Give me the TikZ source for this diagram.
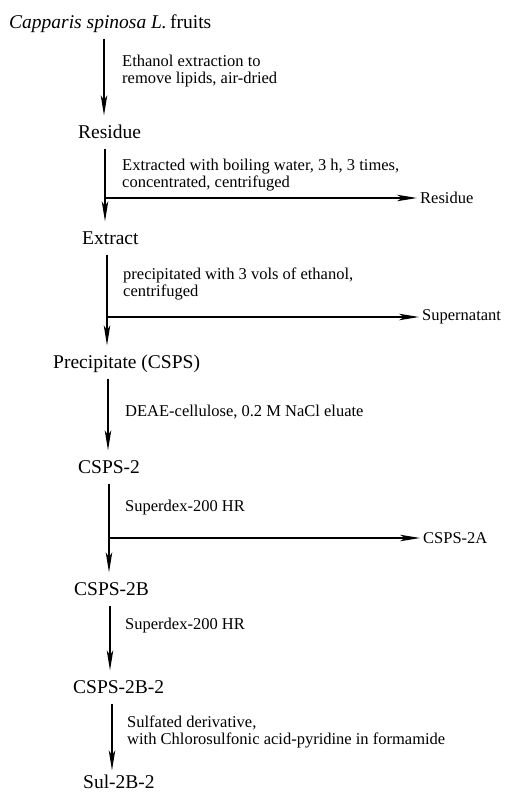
\documentclass[tikz,border=0pt]{standalone}
\usepackage{fontspec}
\setmainfont{Liberation Serif}
\usetikzlibrary{arrows.meta, positioning}

\begin{document}
\begin{tikzpicture}[x=1pt, y=-1pt,
  prod/.style={anchor=west, inner sep=0pt, text height=13pt, text depth=0pt,
               font=\fontsize{19.5}{22}\selectfont},
  note/.style={anchor=west, inner sep=0pt, align=left,
               font=\fontsize{16.5}{17}\selectfont},
  arr/.style={-{Stealth[length=20pt, width=6.5pt, inset=5pt]}, line width=1.1pt,
              shorten <=10pt, shorten >=10pt}
]
\useasboundingbox (0,0) rectangle (506,793);

%% ── Main products ───────────────────────────────────────────────────────
\node[prod] (fruit) at (9,22)   {\textit{Capparis spinosa L.}\,fruits};
\node[prod] (res)   at (78,132) {Residue};
\node[prod] (ext)   at (82,238) {Extract};
\node[prod] (prec)  at (53,362) {Precipitate (CSPS)};
\node[prod] (cs2)   at (78,467) {CSPS-2};
\node[prod] (cs2b)  at (74,589) {CSPS-2B};
\node[prod] (cs2bb) at (73,687) {CSPS-2B-2};
\node[prod] (sul)   at (83,782) {Sul-2B-2};

%% ── Side fractions ──────────────────────────────────────────────────────
\node[note] (resout) at (420,198) {Residue};
\node[note] (super)  at (422,317) {Supernatant};
\node[note] (cs2a)   at (423,538) {CSPS-2A};

%% ── Step notes ──────────────────────────────────────────────────────────
\node[note] (n1) at (122,71.5) {Ethanol extraction to\\remove lipids, air-dried};
\node[note] (n2) at (122,175)  {Extracted with boiling water, 3 h, 3 times,\\concentrated, centrifuged};
\node[note] (n3) at (123,284)  {precipitated with 3 vols of ethanol,\\centrifuged};
\node[note] (n4) at (125,412)  {DEAE-cellulose, 0.2 M NaCl eluate};
\node[note] (n5) at (125,508)  {Superdex-200 HR};
\node[note] (n6) at (125,626)  {Superdex-200 HR};
\node[note] (n7) at (127,731.5) {Sulfated derivative,\\with Chlorosulfonic acid-pyridine in formamide};

%% ── Trunk positions ─────────────────────────────────────────────────────
\coordinate (t1) at (104,0);
\coordinate (t2) at (105,0);
\coordinate (t3) at (107,0);
\coordinate (t4) at (108,0);
\coordinate (t5) at (109,0);
\coordinate (t6) at (110,0);
\coordinate (t7) at (112,0);

\draw[arr] (fruit.south -| t1) -- (res.north -| t1);
\draw[arr] (res.south -| t2)   -- (ext.north -| t2);
\draw[arr] (ext.south -| t3)   -- (prec.north -| t3);
\draw[arr] (prec.south -| t4)  -- (cs2.north -| t4);
\draw[arr] (cs2.south -| t5)   -- (cs2b.north -| t5);
\draw[arr] (cs2b.south -| t6)  -- (cs2bb.north -| t6);
\draw[arr, shorten >=5pt] (cs2bb.south -| t7) -- (sul.north -| t7);

%% ── Branches ────────────────────────────────────────────────────────────
\draw[arr, shorten <=0pt, shorten >=3pt] (resout.west -| t2) -- (resout.west);
\draw[arr, shorten <=0pt, shorten >=3pt] (super.west -| t3)  -- (super.west);
\draw[arr, shorten <=0pt, shorten >=3pt] (cs2a.west -| t5)   -- (cs2a.west);

\end{tikzpicture}
\end{document}
